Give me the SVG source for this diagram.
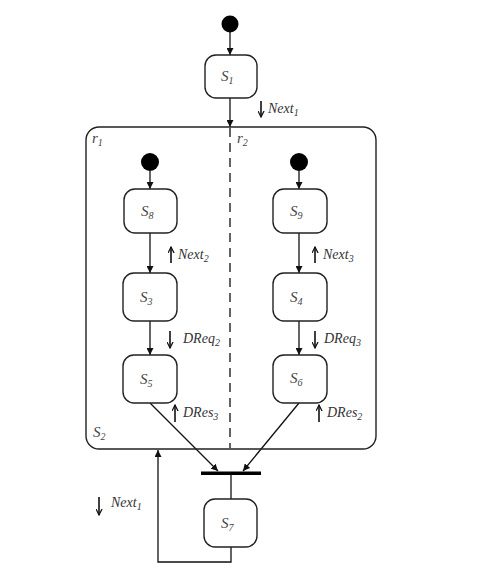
<svg xmlns="http://www.w3.org/2000/svg" width="479" height="579" viewBox="0 0 479 579">
<style>
.st{fill:#fff;stroke:#222;stroke-width:1.4}
.ln{fill:none;stroke:#111;stroke-width:1.3}
.lab{font-family:"Liberation Serif","DejaVu Serif",serif;font-style:italic;font-size:15px;fill:#444}
.ev{font-family:"Liberation Serif","DejaVu Serif",serif;font-style:italic;font-size:14px;fill:#333}
.sub{font-size:10px}
.ea{fill:none;stroke:#111;stroke-width:1.6}
</style>
<defs>
<marker id="ah" viewBox="0 0 8 8" refX="8" refY="4" markerWidth="7" markerHeight="7" markerUnits="userSpaceOnUse" orient="auto">
<path d="M0,0 L8,4 L0,8 z" fill="#111"/>
</marker>
<marker id="sa" viewBox="0 0 8 8" refX="7" refY="4" markerWidth="7" markerHeight="7" markerUnits="userSpaceOnUse" orient="auto">
<path d="M0,0.5 L7,4 L0,7.5" fill="none" stroke="#111" stroke-width="1.4"/>
</marker>
</defs>
<rect width="479" height="579" fill="#fff"/>
<g id="connectors">
<line class="ln" x1="230" y1="32" x2="230" y2="55" marker-end="url(#ah)"/>
<line class="ln" x1="230" y1="98" x2="230" y2="127" marker-end="url(#ah)"/>
<line fill="none" stroke="#222" stroke-width="1.4" stroke-dasharray="9,6" x1="230" y1="128" x2="230" y2="448"/>
<line class="ln" x1="150" y1="171" x2="150" y2="189" marker-end="url(#ah)"/>
<line class="ln" x1="299" y1="171" x2="299" y2="189" marker-end="url(#ah)"/>
<line class="ln" x1="150" y1="233" x2="150" y2="273" marker-end="url(#ah)"/>
<line class="ln" x1="299" y1="233" x2="299" y2="273" marker-end="url(#ah)"/>
<line class="ln" x1="150" y1="321" x2="150" y2="355" marker-end="url(#ah)"/>
<line class="ln" x1="299" y1="321" x2="299" y2="355" marker-end="url(#ah)"/>
<line class="ln" x1="150" y1="403" x2="218" y2="471" marker-end="url(#ah)"/>
<line class="ln" x1="299" y1="403" x2="243" y2="471" marker-end="url(#ah)"/>
<line class="ln" x1="231" y1="474" x2="231" y2="499"/>
<polyline class="ln" points="231,547 231,562 158,562 158,450" marker-end="url(#ah)"/>
</g>
<g id="init1"><circle cx="230" cy="24" r="8.5" fill="#000"/></g>
<g id="S1"><rect class="st" x="205" y="55" width="52" height="43" rx="11"/><text class="lab" x="221" y="81">S<tspan class="sub" dy="3">1</tspan></text></g>
<g id="S2">
<rect fill="none" stroke="#222" stroke-width="1.4" x="86" y="127" width="290" height="322" rx="13"/>
<text class="lab" x="92" y="143">r<tspan class="sub" dy="3">1</tspan></text>
<text class="lab" x="237" y="143">r<tspan class="sub" dy="3">2</tspan></text>
<text class="lab" x="93" y="437">S<tspan class="sub" dy="3">2</tspan></text>
</g>
<g id="init2"><circle cx="150" cy="162" r="9" fill="#000"/></g>
<g id="init3"><circle cx="299" cy="162" r="9" fill="#000"/></g>
<g id="S8"><rect class="st" x="124" y="189" width="53" height="44" rx="11"/><text class="lab" x="141" y="216">S<tspan class="sub" dy="3">8</tspan></text></g>
<g id="S9"><rect class="st" x="273" y="189" width="54" height="44" rx="11"/><text class="lab" x="290" y="216">S<tspan class="sub" dy="3">9</tspan></text></g>
<g id="S3"><rect class="st" x="123" y="273" width="54" height="48" rx="11"/><text class="lab" x="140" y="302">S<tspan class="sub" dy="3">3</tspan></text></g>
<g id="S4"><rect class="st" x="273" y="273" width="54" height="48" rx="11"/><text class="lab" x="290" y="302">S<tspan class="sub" dy="3">4</tspan></text></g>
<g id="S5"><rect class="st" x="123" y="355" width="54" height="48" rx="11"/><text class="lab" x="140" y="384">S<tspan class="sub" dy="3">5</tspan></text></g>
<g id="S6"><rect class="st" x="273" y="355" width="54" height="48" rx="11"/><text class="lab" x="290" y="383">S<tspan class="sub" dy="3">6</tspan></text></g>
<g id="fork"><rect x="201" y="471.5" width="60" height="3.5" fill="#000"/></g>
<g id="S7"><rect class="st" x="204" y="499" width="53" height="48" rx="11"/><text class="lab" x="221" y="528">S<tspan class="sub" dy="3">7</tspan></text></g>
<g id="labels">
<line class="ea" x1="261" y1="101" x2="261" y2="117" marker-end="url(#sa)"/><text class="ev" x="268" y="113">Next<tspan class="sub" dy="3">1</tspan></text>
<line class="ea" x1="171" y1="263" x2="171" y2="247" marker-end="url(#sa)"/><text class="ev" x="178" y="259">Next<tspan class="sub" dy="3">2</tspan></text>
<line class="ea" x1="315" y1="263" x2="315" y2="247" marker-end="url(#sa)"/><text class="ev" x="323" y="259">Next<tspan class="sub" dy="3">3</tspan></text>
<line class="ea" x1="170" y1="331" x2="170" y2="348" marker-end="url(#sa)"/><text class="ev" x="183" y="343">DReq<tspan class="sub" dy="3">2</tspan></text>
<line class="ea" x1="315" y1="331" x2="315" y2="348" marker-end="url(#sa)"/><text class="ev" x="324" y="343">DReq<tspan class="sub" dy="3">3</tspan></text>
<line class="ea" x1="175" y1="422" x2="175" y2="405" marker-end="url(#sa)"/><text class="ev" x="183" y="417">DRes<tspan class="sub" dy="3">3</tspan></text>
<line class="ea" x1="319" y1="422" x2="319" y2="405" marker-end="url(#sa)"/><text class="ev" x="327" y="417">DRes<tspan class="sub" dy="3">2</tspan></text>
<line class="ea" x1="99" y1="497" x2="99" y2="515" marker-end="url(#sa)"/><text class="ev" x="111" y="507">Next<tspan class="sub" dy="3">1</tspan></text>
</g>
</svg>
